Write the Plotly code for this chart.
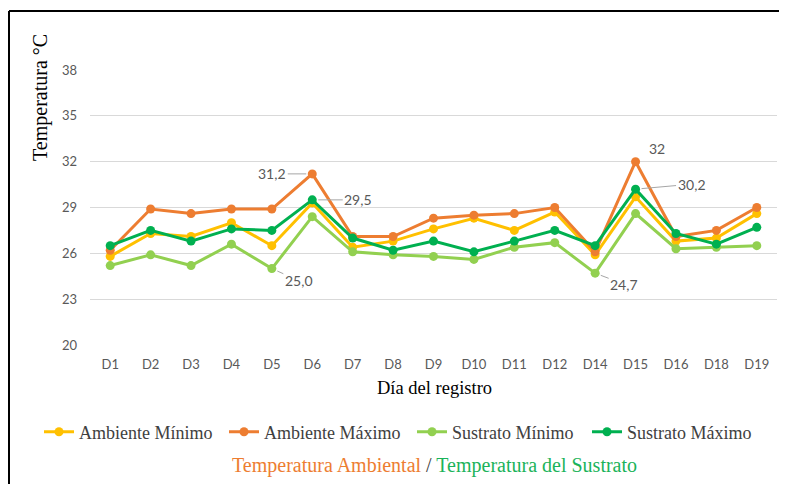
import plotly.graph_objects as go

dias = ["D1", "D2", "D3", "D4", "D5", "D6", "D7", "D8", "D9", "D10", "D11", "D12", "D14", "D15", "D16", "D18", "D19"]
ambiente_min = [25.8, 27.3, 27.1, 28.0, 26.5, 29.3, 26.4, 26.8, 27.6, 28.3, 27.5, 28.7, 25.9, 29.7, 26.8, 27.0, 28.6]
ambiente_max = [26.2, 28.9, 28.6, 28.9, 28.9, 31.2, 27.1, 27.1, 28.3, 28.5, 28.6, 29.0, 26.1, 32.0, 27.1, 27.5, 29.0]
sustrato_min = [25.2, 25.9, 25.2, 26.6, 25.0, 28.4, 26.1, 25.9, 25.8, 25.6, 26.4, 26.7, 24.7, 28.6, 26.3, 26.4, 26.5]
sustrato_max = [26.5, 27.5, 26.8, 27.6, 27.5, 29.5, 27.0, 26.2, 26.8, 26.1, 26.8, 27.5, 26.5, 30.2, 27.3, 26.6, 27.7]
y_ticks = [20, 23, 26, 29, 32, 35, 38]

series = [
    ("Ambiente Mínimo", ambiente_min, "#FFC000"),
    ("Ambiente Máximo", ambiente_max, "#ED7D31"),
    ("Sustrato Mínimo", sustrato_min, "#92D050"),
    ("Sustrato Máximo", sustrato_max, "#00B050"),
]

# page offset (body margin) compensation
OFF = 8
W, H = 787 - OFF, 484 - OFF
# plot area in page pixels: x 90..777, y 70..345
L = 90 - OFF
T = 70 - OFF
R = W - (777 - OFF)
B = H - (345 - OFF)
pw, ph = W - L - R, H - T - B

def px_x(px):
    return (px - OFF - L) / pw

def px_y(py):
    return (H - B - (py - OFF)) / ph

serif = "Liberation Serif, Times New Roman, serif"
legend_text_starts = [80, 265, 453, 628]  # page pixels where each legend label begins
legend_names = ["legend", "legend2", "legend3", "legend4"]

fig = go.Figure()
for k, (name, vals, col) in enumerate(series):
    fig.add_trace(go.Scatter(
        x=dias, y=vals, name=name, mode="lines+markers",
        line=dict(color=col, width=3),
        marker=dict(color=col, size=9),
        legend=legend_names[k],
    ))

label_font = dict(family="Lato, Open Sans, sans-serif", size=14, color="#595959")
# data labels: (series values, category index, dx, dy, leader)
labels = [
    (ambiente_max, 5, -40, 0, True),
    (sustrato_max, 5, 46, 0, True),
    (sustrato_min, 4, 27, 12, True),
    (sustrato_min, 12, 29, 11, True),
    (ambiente_max, 13, 21, -13, False),
    (sustrato_max, 13, 56, -5, True),
]
for vals, i, dx, dy, leader in labels:
    v = vals[i]
    txt = str(int(v)) if (v == int(v) and not leader) else f"{v:.1f}".replace(".", ",")
    fig.add_annotation(
        x=dias[i], y=v, xref="x", yref="y", text=txt, font=label_font,
        showarrow=True, arrowhead=0, arrowwidth=1,
        arrowcolor="#A6A6A6" if leader else "rgba(0,0,0,0)",
        ax=dx, ay=dy, standoff=6,
    )

fig.add_annotation(
    x=px_x(40), y=px_y(98), xref="paper", yref="paper", text="Temperatura °C",
    textangle=-90, showarrow=False, xanchor="center", yanchor="middle",
    font=dict(family=serif, size=20, color="#000000"),
)
fig.add_annotation(
    x=px_x(434), y=px_y(388), xref="paper", yref="paper", text="Día del registro",
    showarrow=False, xanchor="center", yanchor="middle",
    font=dict(family=serif, size=18.5, color="#000000"),
)
fig.add_annotation(
    x=px_x(434), y=px_y(465), xref="paper", yref="paper",
    text="<span style='color:#ED7D31'>Temperatura Ambiental</span> / <span style='color:#1BB35A'>Temperatura del Sustrato</span>",
    showarrow=False, xanchor="center", yanchor="middle",
    font=dict(family=serif, size=20, color="#404040"),
)

# outer frame (left and top edges visible)
fig.add_shape(type="line", xref="paper", yref="paper",
              x0=px_x(9), x1=px_x(9), y0=px_y(500), y1=px_y(11),
              line=dict(color="#000000", width=2), layer="above")
fig.add_shape(type="line", xref="paper", yref="paper",
              x0=px_x(9), x1=px_x(800), y0=px_y(11), y1=px_y(11),
              line=dict(color="#000000", width=2), layer="above")

legend_layout = {}
for lname, tx in zip(legend_names, legend_text_starts):
    legend_layout[lname] = dict(
        orientation="h", xref="container", yref="container",
        x=(tx - 41 - OFF) / W, y=1 - (432 - OFF) / H, xanchor="left", yanchor="middle",
        font=dict(family=serif, size=18, color="#404040"),
        itemwidth=30, bgcolor="rgba(0,0,0,0)",
    )

fig.update_layout(
    width=W, height=H,
    margin=dict(l=L, r=R, t=T, b=B, autoexpand=False),
    paper_bgcolor="white", plot_bgcolor="white",
    showlegend=True,
    xaxis=dict(
        type="category", range=[-0.5, len(dias) - 0.5],
        showgrid=False, showline=False, ticks="", zeroline=False,
        tickfont=dict(family="Lato, Open Sans, sans-serif", size=13, color="#595959"),
        ticklabelstandoff=10,
    ),
    yaxis=dict(
        range=[20, 38], tickvals=y_ticks,
        showgrid=True, gridcolor="#D9D9D9", gridwidth=1,
        showline=False, ticks="", zeroline=False,
        tickfont=dict(family="Lato, Open Sans, sans-serif", size=13, color="#595959"),
        ticklabelstandoff=12,
    ),
    **legend_layout,
)

fig.write_html("out.html", config={"displayModeBar": False})
